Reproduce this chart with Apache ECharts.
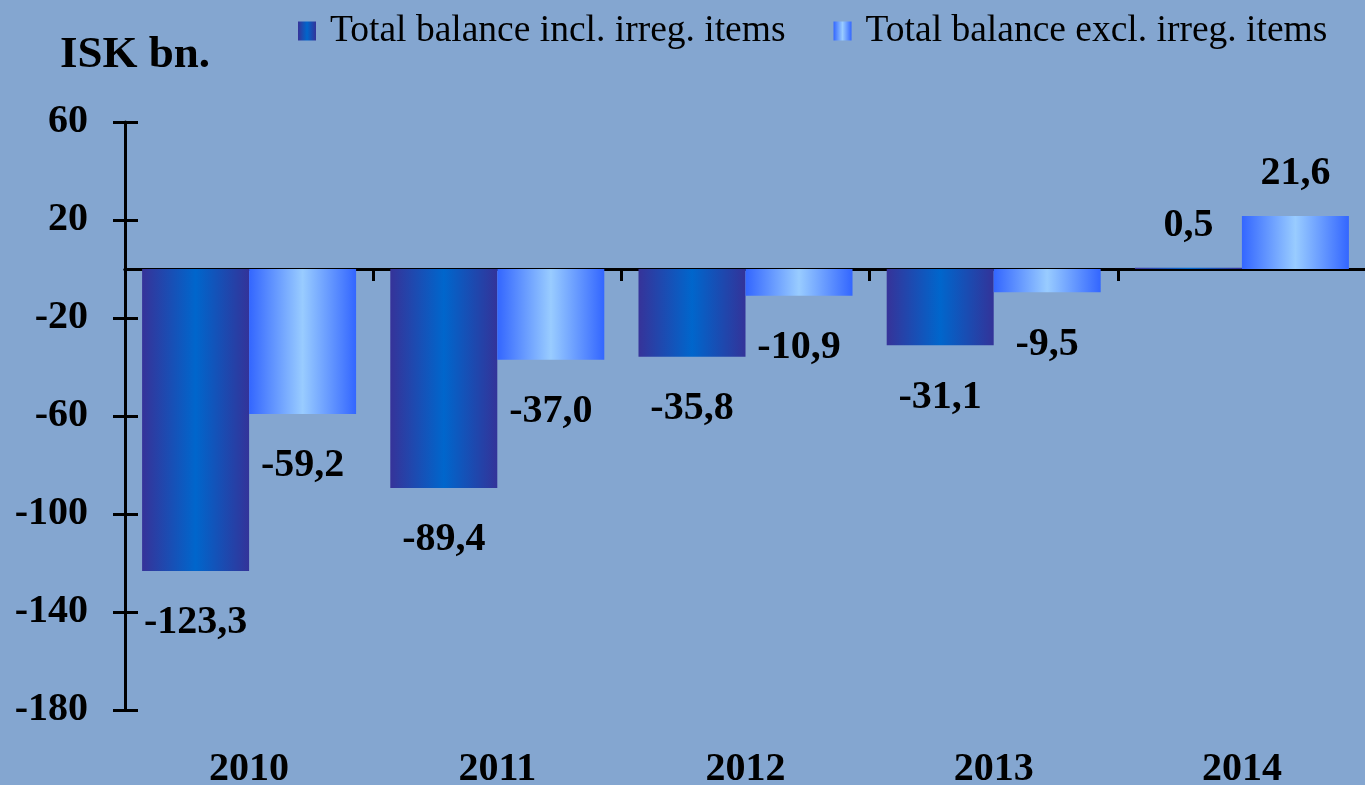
<!DOCTYPE html>
<html>
<head>
<meta charset="utf-8">
<script src="https://cdn.jsdelivr.net/npm/echarts@6/dist/echarts.min.js"></script>
<style>
  html, body { margin: 0; padding: 0; background: #84a6d0; }
  #chart { width: 1365px; height: 785px; }
</style>
</head>
<body>
<div id="chart"></div>
<script>
var years = ['2010', '2011', '2012', '2013', '2014'];
var inclIrreg = [-123.3, -89.4, -35.8, -31.1, 0.5];
var exclIrreg = [-59.2, -37.0, -10.9, -9.5, 21.6];
var yTicks = { min: -180, max: 60, interval: 40 };

var serif = '"Liberation Serif", "Times New Roman", serif';

function fmt(v) {
    return v.toFixed(1).replace('.', ',');
}

// each value gets its label above or below the bar depending on sign
function withLabels(values) {
    return values.map(function (v) {
        return {
            value: v,
            label: { position: v < 0 ? 'bottom' : 'top', distance: v < 0 ? 32 : 22 }
        };
    });
}

var darkFill = new echarts.graphic.LinearGradient(0, 0, 1, 0, [
    { offset: 0, color: '#363399' },
    { offset: 0.5, color: '#0066cc' },
    { offset: 1, color: '#333399' }
]);
var lightFill = new echarts.graphic.LinearGradient(0, 0, 1, 0, [
    { offset: 0, color: '#3366ff' },
    { offset: 0.5, color: '#99ccff' },
    { offset: 1, color: '#3366ff' }
]);

var barLabel = {
    show: true,
    color: '#000',
    fontFamily: serif,
    fontWeight: 'bold',
    fontSize: 40,
    formatter: function (p) { return fmt(p.value); }
};

var option = {
    animation: false,
    backgroundColor: '#84a6d0',
    title: {
        text: 'ISK bn.',
        left: 60,
        top: 33,
        padding: 0,
        textStyle: { fontFamily: serif, fontWeight: 'bold', fontSize: 45, color: '#000' }
    },
    legend: {
        left: 298,
        top: 12,
        padding: 0,
        itemGap: 48,
        itemWidth: 18,
        itemHeight: 19,
        icon: 'rect',
        textStyle: { fontFamily: serif, fontSize: 37.5, color: '#000', padding: [0, 0, 0, 9] },
        data: ['Total balance incl. irreg. items', 'Total balance excl. irreg. items']
    },
    grid: { left: 125, right: -1, top: 122, bottom: 75, containLabel: false, outerBoundsMode: 'none' },
    xAxis: [
        {
            type: 'category',
            data: years,
            axisLine: { onZero: true, onZeroAxisIndex: 0, lineStyle: { color: '#000', width: 3 } },
            axisTick: { show: true, length: 12, lineStyle: { color: '#000', width: 3 } },
            axisLabel: { show: false }
        },
        {
            type: 'category',
            data: years,
            axisLine: { onZero: true, onZeroAxisIndex: 1, lineStyle: { color: '#000', width: 3 } },
            axisTick: { show: true, inside: true, length: 12, lineStyle: { color: '#000', width: 3 } },
            axisLabel: { show: false }
        },
        {
            type: 'category',
            data: years,
            position: 'bottom',
            axisLine: { show: false, onZero: false },
            axisTick: { show: false },
            axisLabel: {
                margin: 40,
                color: '#000',
                fontFamily: serif,
                fontWeight: 'bold',
                fontSize: 40
            }
        }
    ],
    yAxis: [
        {
            type: 'value',
            min: yTicks.min,
            max: yTicks.max,
            interval: yTicks.interval,
            position: 'left',
            splitLine: { show: false },
            axisLine: { show: true, lineStyle: { color: '#000', width: 3 } },
            axisTick: { show: true, length: 12, lineStyle: { color: '#000', width: 3 } },
            axisLabel: {
                margin: 37,
                color: '#000',
                fontFamily: serif,
                fontWeight: 'bold',
                fontSize: 40
            }
        },
        {
            type: 'value',
            min: yTicks.min,
            max: yTicks.max,
            interval: yTicks.interval,
            position: 'left',
            splitLine: { show: false },
            axisLine: { show: false },
            axisTick: { show: true, inside: true, length: 13, lineStyle: { color: '#000', width: 3 } },
            axisLabel: { show: false }
        }
    ],
    series: [
        {
            name: 'Total balance incl. irreg. items',
            type: 'bar',
            barWidth: 107,
            barGap: '0%',
            itemStyle: { color: darkFill },
            label: barLabel,
            data: withLabels(inclIrreg)
        },
        {
            name: 'Total balance excl. irreg. items',
            type: 'bar',
            barWidth: 107,
            barGap: '0%',
            itemStyle: { color: lightFill },
            label: barLabel,
            data: withLabels(exclIrreg)
        }
    ]
};

var chart = echarts.init(document.getElementById('chart'));
chart.setOption(option);

window.onresize = function () {
    chart.resize();
};
</script>
</body>
</html>
